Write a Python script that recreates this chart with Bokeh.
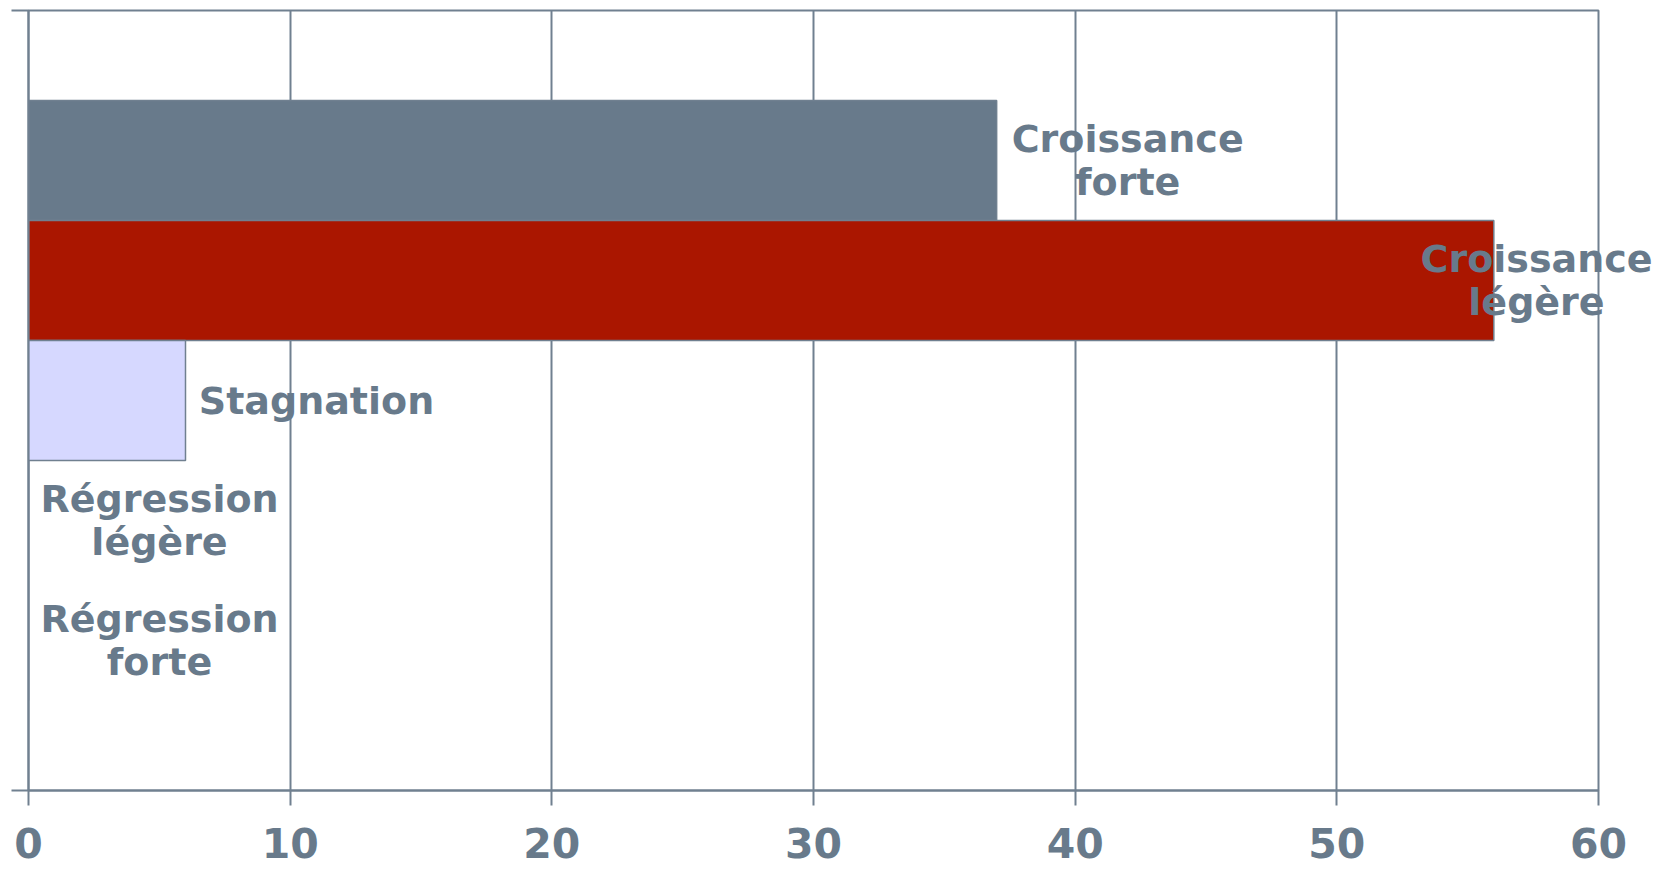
from bokeh.plotting import figure
from bokeh.models import Range1d, FixedTicker, CustomLabelingPolicy
from bokeh.core.properties import value
from bokeh.embed import file_html
from bokeh.resources import INLINE

# ---- data ----
categories = ["Croissance forte", "Croissance légère", "Stagnation",
              "Régression légère", "Régression forte"]
label_lines = ["Croissance\nforte", "Croissance\nlégère", "Stagnation",
               "Régression\nlégère", "Régression\nforte"]
values = [37, 56, 6, 0, 0]
bar_colors = ["#687a8b", "#aa1600", "#d6d8ff", "#d6d8ff", "#d6d8ff"]
x_ticks = [0, 10, 20, 30, 40, 50, 60]

# ---- style / layout ----
TEXT = "#687a8b"
GRID = "#708090"
FONT = "DejaVu Sans"
FW, FH = 1570, 780
BL, BT, BR, BB = 28, 10, 62, 85
W = BL + FW + BR
XMAX = 60
pad = 0.75

idx = list(range(len(categories)))
ylo, yhi = -0.5 - pad, len(categories) - 0.5 + pad

p = figure(frame_width=FW, frame_height=FH, output_backend="svg",
           toolbar_location=None,
           x_range=Range1d(0, XMAX), y_range=Range1d(yhi, ylo),
           min_border_left=BL, min_border_top=BT, min_border_right=BR,
           min_border_bottom=BB)
p.background_fill_color = "white"
p.border_fill_color = "white"
p.outline_line_color = GRID
p.outline_line_width = 2

p.hbar(y=idx, left=0, right=values, height=1.0, fill_color=bar_colors,
       line_color=GRID, line_width=1.5)

# label offsets: to the right of bar end, kept inside the canvas
half = 116
offsets = []
for v in values:
    px = BL + v / XMAX * FW
    offsets.append(min(15 + half, W - 8 - half - px))

p.text(x=values, y=idx, text=label_lines, x_offset=offsets,
       text_align="center", text_baseline="middle",
       text_font=value(FONT), text_font_style="bold", text_font_size="38px",
       text_color=TEXT, text_line_height=0.98, level="overlay")

# x axis
xa = p.xaxis[0]
xa.ticker = FixedTicker(ticks=x_ticks)
xa.axis_line_color = GRID
xa.axis_line_width = 2
xa.major_tick_line_color = GRID
xa.major_tick_line_width = 2
xa.major_tick_out = 15
xa.major_tick_in = 0
xa.minor_tick_line_color = None
xa.major_label_text_font = FONT
xa.major_label_text_font_style = "bold"
xa.major_label_text_font_size = "41px"
xa.major_label_text_color = TEXT
xa.major_label_standoff = 22

# y axis (only end ticks, no labels)
ya = p.yaxis[0]
ya.ticker = FixedTicker(ticks=[ylo, yhi])
ya.axis_line_color = GRID
ya.axis_line_width = 2
ya.major_tick_line_color = GRID
ya.major_tick_line_width = 2
ya.major_tick_out = 17
ya.major_tick_in = 0
ya.minor_tick_line_color = None
ya.major_label_standoff = 0
ya.major_label_text_font_size = "0px"
ya.major_label_policy = CustomLabelingPolicy(
    code="for (const i of [...indices]) { indices.unset(i) }\nreturn indices")

p.xgrid.grid_line_color = GRID
p.xgrid.grid_line_width = 2
p.xgrid.ticker = FixedTicker(ticks=x_ticks)
p.ygrid.grid_line_color = None

open("out.html", "w").write(file_html(p, INLINE))
